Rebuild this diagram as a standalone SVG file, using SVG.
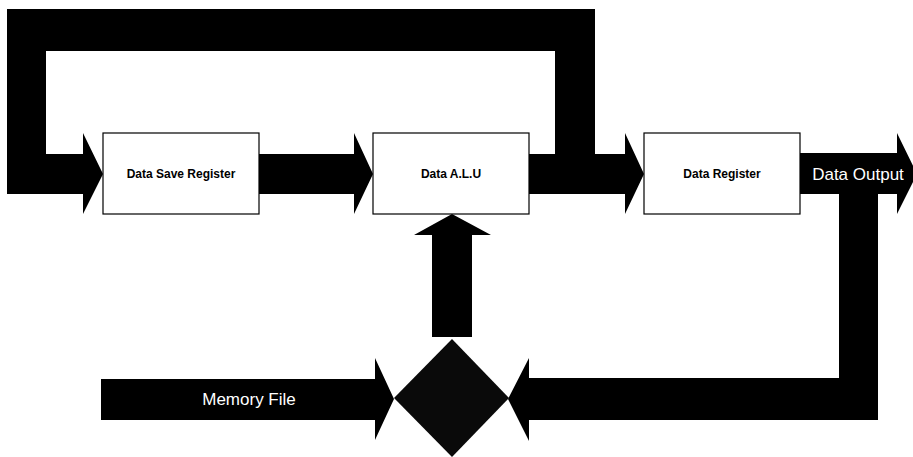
<svg xmlns="http://www.w3.org/2000/svg" width="913" height="457" viewBox="0 0 913 457">
  <style>
    .box { fill: #ffffff; stroke: #000000; stroke-width: 1.2; }
    .flow { fill: #000000; stroke: none; }
    .mux { fill: #0a0a0a; stroke: none; }
    .lbl { font-family: "Liberation Sans", Arial, sans-serif; font-size: 12px; font-weight: bold; fill: #000000; text-anchor: middle; }
    .bus { font-family: "Liberation Sans", Arial, sans-serif; font-size: 17px; fill: #ffffff; text-anchor: middle; }
  </style>
  <rect width="913" height="457" fill="#ffffff"/>

  <!-- wide bus arrows -->
  <g id="connectors">
    <!-- feedback loop from ALU output back into the save register -->
    <path class="flow" d="M7,9 H595 V154 H555 V51 H46 V154 H83 V133 L103,174 L83,214 V194 H7 Z"/>
    <!-- save register to ALU -->
    <path class="flow" d="M259,154 H354 V133 L373,174 L354,214 V194 H259 Z"/>
    <!-- ALU to data register -->
    <path class="flow" d="M529,154 H625 V133 L644,174 L625,214 V194 H529 Z"/>
    <!-- data output -->
    <path class="flow" d="M800,153 H897 V133 L917,174 L897,214 V194 H800 Z"/>
    <text class="bus" x="858" y="180">Data Output</text>
    <!-- output fed back to the multiplexer -->
    <path class="flow" d="M839,194 H878 V420 H529 V441 L508,399 L529,358 V378 H839 Z"/>
    <!-- memory file into the multiplexer -->
    <path class="flow" d="M101,379 H375 V358 L394,399 L375,440 V420 H101 Z"/>
    <text class="bus" x="249" y="405">Memory File</text>
    <!-- multiplexer up to ALU -->
    <path class="flow" d="M432,337 V235 H414 L452,214 L491,235 H472 V337 Z"/>
  </g>

  <g id="data-save-register">
    <rect class="box" x="103" y="133" width="156" height="81"/>
    <text class="lbl" x="181" y="178">Data Save Register</text>
  </g>

  <g id="data-alu">
    <rect class="box" x="373" y="133" width="156" height="81"/>
    <text class="lbl" x="451" y="178">Data A.L.U</text>
  </g>

  <g id="data-register">
    <rect class="box" x="644" y="133" width="156" height="81"/>
    <text class="lbl" x="722" y="178">Data Register</text>
  </g>

  <g id="multiplexer">
    <path class="mux" d="M452,339 L509,398 L452,457 L394,398 Z"/>
  </g>
</svg>
